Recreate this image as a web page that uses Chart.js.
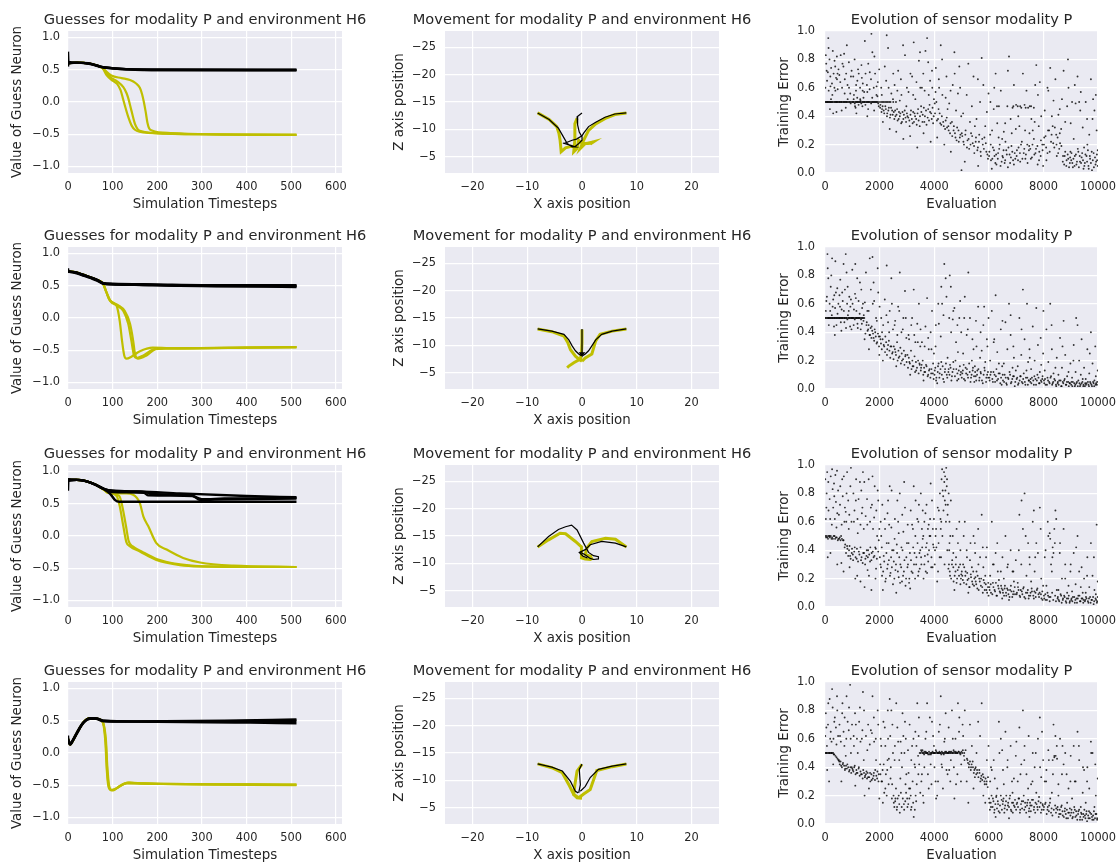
<!DOCTYPE html>
<html>
<head>
<meta charset="utf-8">
<script src="https://cdn.jsdelivr.net/npm/chart.js@4.4.1/dist/chart.umd.min.js"></script>
<style>
  html, body { margin: 0; padding: 0; background: #fff; width: 1118px; height: 863px; overflow: hidden; position: relative; }
  canvas { position: absolute; }
</style>
</head>
<body>
<script>
// ---- tick values and labels ----
const stepTicks = [0, 100, 200, 300, 400, 500, 600];
const stepLabels = ["0", "100", "200", "300", "400", "500", "600"];
const guessTicks = [-1, -0.5, 0, 0.5, 1];
const guessLabels = ["\u22121.0", "\u22120.5", "0.0", "0.5", "1.0"];
const posXTicks = [-20, -10, 0, 10, 20];
const posXLabels = ["\u221220", "\u221210", "0", "10", "20"];
const posZTicks = [-25, -20, -15, -10, -5];
const posZLabels = ["\u221225", "\u221220", "\u221215", "\u221210", "\u22125"];
const evalTicks = [0, 2000, 4000, 6000, 8000, 10000];
const evalLabels = ["0", "2000", "4000", "6000", "8000", "10000"];
const errTicks = [0, 0.2, 0.4, 0.6, 0.8, 1.0];
const errLabels = ["0.0", "0.2", "0.4", "0.6", "0.8", "1.0"];

// ---- guess neuron output: [timestep, value] ----
const guessBlack1 = [
  [[0,0.78],[1,0.62],[20,0.61],[40,0.6],[60,0.575],[75,0.545],[100,0.525],[130,0.51],[170,0.5],[250,0.495],[512,0.495]],
  [[0,0.55],[1,0.6],[20,0.61],[45,0.6],[65,0.565],[80,0.535],[110,0.515],[150,0.5],[200,0.495],[512,0.49]],
  [[0,0.6],[20,0.61],[50,0.59],[70,0.55],[90,0.53],[140,0.505],[512,0.5]]
];
const guessYellow1 = [
  [[0,0.6],[20,0.61],[45,0.6],[65,0.565],[78,0.52],[86,0.42],[100,0.33],[110,0.28],[118,0.18],[124,0.03],[135,-0.23],[143,-0.37],[150,-0.43],[160,-0.46],[220,-0.49],[300,-0.5],[512,-0.51]],
  [[0,0.6],[20,0.61],[45,0.6],[65,0.565],[78,0.52],[94,0.39],[110,0.32],[124,0.23],[131,0.14],[135,0.06],[142,-0.13],[150,-0.34],[156,-0.42],[163,-0.45],[220,-0.49],[512,-0.51]],
  [[0,0.6],[20,0.61],[45,0.6],[65,0.565],[78,0.52],[97,0.41],[120,0.37],[139,0.34],[152,0.29],[161,0.22],[166,0.12],[170,0.0],[174,-0.15],[178,-0.32],[182,-0.41],[188,-0.44],[230,-0.48],[512,-0.51]]
];
const guessBlack2 = [
  [[0,0.77],[1,0.72],[15,0.71],[30,0.68],[50,0.63],[65,0.59],[80,0.54],[100,0.53],[200,0.52],[300,0.51],[512,0.51]],
  [[0,0.7],[1,0.72],[15,0.71],[30,0.68],[50,0.63],[65,0.59],[80,0.535],[100,0.525],[200,0.51],[300,0.5],[512,0.5]],
  [[0,0.72],[15,0.71],[30,0.67],[50,0.62],[65,0.58],[80,0.53],[120,0.52],[250,0.5],[400,0.49],[512,0.49]],
  [[0,0.72],[15,0.7],[30,0.67],[50,0.63],[68,0.58],[82,0.53],[150,0.515],[300,0.5],[512,0.48]]
];
const guessYellow2 = [
  [[0,0.72],[15,0.71],[30,0.68],[50,0.63],[65,0.59],[78,0.54],[86,0.4],[92,0.29],[100,0.24],[109,0.19],[116,-0.05],[121,-0.35],[126,-0.58],[131,-0.63],[142,-0.6],[160,-0.52],[190,-0.46],[250,-0.47],[400,-0.46],[512,-0.45]],
  [[0,0.72],[15,0.71],[30,0.68],[50,0.63],[65,0.59],[78,0.54],[86,0.4],[94,0.27],[110,0.19],[124,0.11],[135,-0.09],[142,-0.35],[148,-0.58],[154,-0.62],[169,-0.58],[190,-0.49],[220,-0.47],[400,-0.46],[512,-0.45]],
  [[0,0.72],[15,0.71],[30,0.68],[50,0.63],[65,0.59],[78,0.54],[86,0.4],[95,0.27],[112,0.2],[127,0.11],[139,-0.09],[146,-0.35],[150,-0.55],[157,-0.63],[176,-0.58],[198,-0.48],[240,-0.47],[512,-0.45]]
];
const guessBlack3 = [
  [[0,0.7],[1,0.88],[20,0.87],[40,0.85],[60,0.8],[80,0.73],[100,0.7],[150,0.69],[175,0.68],[185,0.65],[270,0.64],[300,0.57],[350,0.58],[512,0.59]],
  [[0,0.86],[20,0.87],[40,0.85],[60,0.8],[80,0.73],[100,0.7],[160,0.69],[250,0.66],[400,0.62],[512,0.6]],
  [[0,0.87],[20,0.87],[40,0.85],[60,0.8],[80,0.73],[95,0.65],[105,0.56],[115,0.53],[512,0.53]],
  [[0,0.86],[20,0.87],[40,0.85],[60,0.8],[80,0.73],[100,0.68],[170,0.67],[180,0.63],[280,0.62],[295,0.56],[350,0.57],[512,0.58]]
];
const guessYellow3 = [
  [[0,0.87],[20,0.87],[40,0.85],[60,0.8],[80,0.72],[90,0.67],[109,0.62],[116,0.46],[124,0.15],[131,-0.1],[139,-0.16],[161,-0.24],[198,-0.37],[251,-0.45],[296,-0.47],[512,-0.48]],
  [[0,0.87],[20,0.87],[40,0.85],[60,0.8],[80,0.72],[90,0.67],[115,0.62],[122,0.45],[130,0.15],[136,-0.08],[145,-0.16],[165,-0.24],[200,-0.36],[251,-0.44],[300,-0.47],[512,-0.48]],
  [[0,0.87],[20,0.87],[40,0.85],[60,0.8],[80,0.72],[90,0.67],[130,0.66],[146,0.64],[161,0.51],[169,0.3],[180,0.15],[198,-0.11],[221,-0.21],[258,-0.34],[296,-0.41],[371,-0.46],[512,-0.48]]
];
const guessBlack4 = [
  [[0,0.27],[1,0.18],[5,0.13],[10,0.18],[20,0.31],[34,0.47],[49,0.54],[62,0.54],[79,0.5],[120,0.49],[300,0.49],[512,0.5]],
  [[0,0.15],[1,0.2],[5,0.14],[10,0.19],[20,0.32],[34,0.47],[49,0.53],[62,0.53],[80,0.49],[200,0.485],[512,0.46]],
  [[0,0.22],[5,0.13],[10,0.18],[20,0.3],[34,0.46],[50,0.53],[64,0.53],[80,0.5],[150,0.49],[350,0.5],[512,0.52]]
];
const guessYellow4 = [
  [[0,0.22],[5,0.13],[10,0.18],[20,0.31],[34,0.47],[49,0.54],[64,0.53],[76,0.5],[80,0.42],[84,0.14],[87,-0.27],[91,-0.53],[98,-0.58],[110,-0.54],[125,-0.48],[138,-0.46],[170,-0.47],[512,-0.49]],
  [[0,0.22],[5,0.13],[10,0.18],[20,0.31],[34,0.47],[49,0.54],[64,0.53],[76,0.5],[81,0.4],[85,0.12],[88,-0.3],[93,-0.55],[101,-0.58],[116,-0.51],[135,-0.46],[161,-0.47],[512,-0.49]],
  [[0,0.22],[5,0.13],[10,0.18],[20,0.31],[34,0.47],[49,0.54],[64,0.53],[76,0.5],[80,0.44],[85,0.2],[88,-0.2],[92,-0.5],[97,-0.57],[108,-0.55],[130,-0.47],[200,-0.48],[512,-0.5]]
];

// ---- robot movement: [x position, z position] ----
const moveBlack1 = [
  [[-8.1,-13],[-6,-11.8],[-4.3,-10.2],[-3.5,-8.8],[-2.7,-7.4],[-1.8,-6.8],[-1.2,-6.8],[-2.5,-7.2],[-3.5,-7.5]],
  [[8.1,-13],[6,-12.8],[4.2,-12.2],[2.5,-11.3],[1.2,-10.5],[0.3,-9.3],[0,-8.8],[-1,-8.2],[-1.8,-8],[-3.3,-7.4]],
  [[0,-13],[-0.9,-12.3],[-0.8,-10.8],[-0.5,-9.5],[0,-8.6],[0,-8],[-0.7,-7.3],[-1.3,-6.8]]
];
const moveYellow1 = [
  [[-8.1,-13],[-6,-11.8],[-4.6,-10.5],[-4.2,-9.2],[-4,-8],[-3.8,-5.9],[-3,-6.6],[-2,-6.9],[-1.2,-6.8]],
  [[-0.9,-12],[-1.3,-11],[-1.3,-9.8],[-1.3,-8],[-1.5,-5.9],[-0.9,-6.5],[-0.6,-8],[0,-7.4],[1,-7.4],[2.1,-7.7],[1.5,-7.3]],
  [[8.1,-13],[6,-12.7],[4.25,-12],[2.5,-11],[1.2,-9.8],[0.3,-8],[-0.3,-6.5],[0.6,-7.4],[1.8,-7.5]]
];
const moveBlack2 = [
  [[-8.1,-13],[-5.5,-12.6],[-3.3,-12],[-2.4,-11],[-1.8,-9.9],[-1.2,-9],[-0.6,-8.4],[-0.1,-8.1]],
  [[8.1,-13],[5.5,-12.6],[3.6,-12],[2.5,-11],[1.8,-9.9],[1.2,-9],[0.6,-8.4],[0.1,-8.1]],
  [[0,-13],[0,-10.5],[0,-8.1],[-0.4,-8.6],[0.4,-8.6],[0,-8.1]]
];
const moveYellow2 = [
  [[-8.1,-13],[-5.5,-12.5],[-3.3,-11.7],[-2.6,-10.5],[-2.1,-9.2],[-1.2,-8],[-0.5,-7.4],[0,-7.1]],
  [[8.1,-13],[5.5,-12.6],[3.3,-12],[2.5,-10.8],[1.8,-8.4],[0.6,-7.7],[0,-7.1]],
  [[0,-12.9],[0,-10.5],[-0.1,-8.5],[-0.3,-7.5],[-1.5,-6.8],[-2.4,-6.2],[-2.7,-5.9]]
];
const moveBlack3 = [
  [[-8.1,-13],[-6.1,-14.9],[-4.3,-16.2],[-3,-16.7],[-1.9,-17],[-0.9,-16.1],[0.3,-13.7],[1.2,-12],[2.1,-11.4],[3,-11.2],[3,-10.8],[2.1,-10.7],[1.5,-10.9],[0.5,-11.6],[-0.3,-12]],
  [[8.1,-13],[6.1,-13.7],[3.6,-14],[1.5,-13.4],[0.6,-12.5],[-0.5,-12],[0.2,-11.3],[1,-11]]
];
const moveYellow3 = [
  [[-8.1,-13],[-6.1,-14.3],[-4,-15.5],[-3,-15.4],[-1.2,-14],[-0.1,-13],[-0.1,-11],[0.6,-10.8],[1.5,-10.7],[2,-11]],
  [[8.1,-13],[6.1,-14.4],[4.3,-14.6],[1.8,-14],[0.9,-12.8],[0.6,-11.6],[1.8,-11.2]]
];
const moveBlack4 = [
  [[-8.1,-13],[-5.5,-12.4],[-3.6,-11.7],[-2.1,-9.8],[-1.2,-8],[-0.7,-7.7]],
  [[8.1,-13],[5.5,-12.6],[3,-12],[1.5,-10.5],[0.6,-8.9],[-0.3,-8]],
  [[0,-13],[-0.5,-12],[-0.3,-9.2],[-0.6,-7.7]]
];
const moveYellow4 = [
  [[-8.1,-13],[-5.5,-12.3],[-3.6,-11.4],[-2.4,-9.2],[-1.5,-7.4],[-0.9,-6.8],[0,-6.7]],
  [[8.1,-13],[5.5,-12.5],[2.7,-11.8],[1.5,-8.3],[0.3,-7.5],[-0.6,-6.8]],
  [[0,-12.9],[-0.9,-11.7],[-1.3,-9.2],[-1.5,-7.4],[-0.6,-6.8]]
];

// ---- training error per evaluation: [evaluation, error] ----
const trainErr1 = [
  [20,.5],[90,.5],[160,.5],[240,.5],[330,.5],[410,.5],[480,.5],[60,.72],[130,.88],[200,.61],[270,.55],[350,.79],[440,.66],[120,.95],[300,.42],[380,.58],[460,.7],[30,.83],[220,.52],
  [520,.5],[600,.5],[690,.5],[770,.5],[860,.5],[940,.49],[560,.64],[640,.77],[720,.56],[800,.9],[880,.6],[950,.68],[610,.44],[830,.52],[700,.84],
  [1010,.5],[1090,.49],[1170,.5],[1250,.5],[1330,.49],[1420,.5],[1060,.55],[1140,.62],[1210,.73],[1290,.52],[1380,.58],[1460,.93],[1120,.46],[1350,.67],[1480,.48],
  [1520,.5],[1600,.5],[1690,.49],[1770,.5],[1860,.5],[1950,.49],[1550,.57],[1640,.71],[1730,.53],[1810,.82],[1890,.61],[1970,.47],[1580,.45],[1700,.98],[1920,.54],
  [2030,.48],[2090,.45],[2150,.44],[2210,.47],[2280,.42],[2340,.46],[2400,.41],[2460,.44],[2060,.6],[2190,.75],[2310,.88],[2430,.56],[2120,.36],[2370,.31],[2260,.97],[2490,.52],[2200,.5],[2350,.5],
  [2520,.43],[2580,.4],[2640,.45],[2700,.38],[2760,.42],[2820,.36],[2890,.41],[2950,.39],[2550,.62],[2680,.72],[2800,.55],[2930,.83],[2610,.29],[2870,.24],[2740,.51],[2980,.47],
  [3020,.4],[3090,.37],[3150,.44],[3210,.35],[3280,.42],[3340,.38],[3410,.45],[3470,.33],[3060,.57],[3190,.68],[3310,.52],[3440,.79],[3120,.26],[3380,.18],[3250,.92],[3490,.6],
  [3520,.47],[3580,.41],[3640,.36],[3700,.44],[3760,.39],[3830,.48],[3890,.42],[3960,.35],[3550,.6],[3680,.86],[3800,.55],[3920,.72],[3610,.28],[3740,.95],[3870,.22],[3990,.52],
  [4020,.49],[4080,.5],[4140,.38],[4200,.42],[4260,.34],[4330,.36],[4400,.31],[4460,.39],[4050,.57],[4170,.66],[4290,.8],[4420,.53],[4110,.25],[4370,.2],[4240,.9],[4490,.45],
  [4520,.33],[4580,.28],[4650,.36],[4710,.3],[4780,.25],[4840,.32],[4900,.22],[4960,.27],[4550,.49],[4680,.62],[4800,.44],[4920,.75],[4610,.15],[4870,.56],[4740,.85],[4990,.4],
  [5030,.26],[5090,.2],[5150,.3],[5220,.23],[5280,.17],[5350,.28],[5410,.21],[5470,.14],[5060,.42],[5190,.55],[5310,.36],[5440,.68],[5120,.08],[5380,.47],[5250,.77],[5490,.33],[5000,.02],
  [5520,.22],[5580,.16],[5650,.27],[5710,.12],[5780,.2],[5840,.25],[5910,.15],[5970,.1],[5550,.38],[5680,.5],[5800,.62],[5930,.43],[5610,.05],[5870,.33],[5740,.81],[5990,.56],
  [6020,.15],[6080,.09],[6150,.18],[6210,.12],[6280,.06],[6340,.14],[6400,.2],[6470,.08],[6050,.27],[6180,.45],[6310,.35],[6440,.58],[6110,.03],[6370,.47],[6250,.7],[6490,.24],[6060,.5],[6300,.47],
  [6520,.11],[6580,.07],[6640,.16],[6700,.04],[6760,.13],[6830,.19],[6890,.09],[6950,.14],[6550,.29],[6680,.47],[6800,.38],[6920,.62],[6610,.22],[6870,.46],[6740,.82],[6990,.31],
  [7020,.12],[7090,.18],[7150,.08],[7210,.22],[7280,.14],[7340,.1],[7410,.2],[7470,.16],[7060,.47],[7190,.46],[7310,.48],[7440,.46],[7120,.33],[7380,.58],[7250,.7],[7490,.28],
  [7520,.17],[7580,.11],[7650,.24],[7710,.14],[7780,.19],[7840,.09],[7910,.23],[7970,.16],[7550,.47],[7680,.36],[7800,.55],[7920,.4],[7610,.3],[7870,.64],[7740,.76],[7990,.05],
  [8020,.2],[8080,.26],[8150,.14],[8210,.3],[8280,.22],[8340,.33],[8400,.18],[8470,.27],[8050,.44],[8180,.58],[8310,.4],[8440,.66],[8110,.09],[8370,.51],[8250,.74],[8490,.12],
  [8520,.25],[8580,.17],[8650,.31],[8710,.08],[8780,.12],[8840,.05],[8910,.1],[8970,.07],[8550,.41],[8680,.52],[8800,.36],[8920,.6],[8610,.21],[8870,.47],[8740,.72],[8990,.15],
  [9020,.09],[9080,.04],[9150,.12],[9210,.06],[9280,.15],[9340,.08],[9400,.11],[9470,.03],[9050,.5],[9180,.49],[9310,.5],[9440,.32],[9110,.24],[9370,.57],[9250,.68],[9490,.18],
  [9520,.07],[9580,.12],[9650,.05],[9710,.1],[9780,.02],[9840,.14],[9910,.06],[9970,.09],[9550,.5],[9680,.27],[9800,.38],[9920,.55],[9610,.2],[9870,.44],[9740,.66],[9990,.16],
  [40,.5],[70,.5],[110,.5],[140,.5],[190,.5],[210,.5],[260,.5],[290,.5],[360,.5],[390,.5],[430,.5],[460,.5],[540,.5],[570,.5],[620,.5],[660,.5],[710,.5],[740,.5],[790,.5],[820,.5],[900,.5],[920,.5],[970,.5],
  [1030,.5],[1060,.5],[1110,.5],[1140,.5],[1190,.5],[1220,.5],[1280,.5],[1310,.5],[1360,.5],[1390,.5],[1450,.5],[1470,.5],[1540,.5],[1570,.5],[1620,.5],[1660,.5],[1710,.5],[1740,.5],[1800,.5],[1830,.5],[1890,.5],[1920,.5],[1980,.5],
  [2050,.5],[2100,.5],[2150,.5],[2250,.5],[2300,.5],[2400,.5],[2500,.5],[2600,.5],
  [1050,.52],[1100,.47],[1180,.53],[1230,.48],[1300,.51],[1370,.47],[1410,.53],
  [15,.6],[45,.77],[75,.65],[105,.71],[135,.58],[165,.8],[195,.68],[225,.74],[255,.63],[285,.86],[315,.7],[345,.6],[375,.75],[405,.67],[435,.82],[465,.59],[495,.73],[525,.69],[575,.83],[625,.6],[675,.75],[725,.66],[775,.7],[825,.62],
  [875,.78],[925,.56],[975,.72],[1035,.68],[1085,.8],[1135,.58],[1185,.65],[1235,.7],[1285,.6],[1335,.76],[1385,.63],[1435,.57],[1485,.7],[1535,.62],[1585,.77],[1635,.59],[1685,.66],[1735,.85],[1785,.6],[1835,.7],[1885,.55],[1935,.64],[1985,.73],
  [180,.45],[420,.43],[760,.46],[1150,.42],[1550,.4],[1800,.44],
  [2020,.46],[2070,.43],[2110,.47],[2170,.42],[2230,.45],[2270,.4],[2320,.44],[2380,.39],[2420,.46],[2480,.41],[2540,.38],[2570,.44],[2620,.41],[2660,.37],[2710,.43],[2740,.4],[2790,.35],[2840,.43],[2870,.38],[2920,.44],[2970,.36],
  [3000,.42],[3050,.39],[3100,.33],[3130,.41],[3180,.38],[3230,.43],[3260,.36],[3300,.4],[3360,.34],[3390,.42],[3430,.37],[3480,.4],[3530,.43],[3570,.36],[3620,.46],[3660,.4],[3720,.34],[3780,.45],[3810,.37],[3850,.43],[3910,.38],[3940,.46],[3980,.4],
  [4030,.42],[4100,.37],[4160,.45],[4220,.35],[4280,.4],[4350,.33],[4420,.37],[4470,.32],
  [2080,.55],[2240,.65],[2330,.6],[2500,.7],[2650,.58],[2780,.66],[2860,.9],[3000,.6],[3130,.7],[3230,.55],[3350,.64],[3480,.85],[3600,.7],[3650,.58],[3780,.78],[3850,.65],[3930,.6],[4060,.74],[4180,.6],[4300,.55],[4450,.68],[4600,.58],[4750,.7],[4950,.6],
  [4530,.3],[4600,.35],[4660,.26],[4720,.33],[4760,.28],[4820,.23],[4890,.3],[4940,.25],[5010,.28],[5070,.22],[5140,.27],[5200,.18],[5260,.24],[5330,.2],[5390,.26],[5460,.19],[5530,.25],[5600,.18],[5640,.22],[5700,.15],[5760,.24],[5820,.17],[5890,.21],[5950,.13],
  [6010,.12],[6070,.2],[6130,.1],[6190,.16],[6240,.07],[6270,.13],[6330,.1],[6380,.17],[6430,.05],[6500,.12],[6540,.16],[6600,.09],[6660,.13],[6720,.18],[6780,.07],[6810,.11],[6860,.15],[6920,.06],[6970,.1],
  [7030,.16],[7070,.09],[7140,.14],[7180,.2],[7230,.1],[7300,.17],[7360,.13],[7420,.07],[7480,.19],[7540,.1],[7600,.2],[7670,.13],[7730,.17],[7790,.06],[7850,.15],[7900,.12],[7960,.2],
  [6120,.3],[6360,.25],[6600,.35],[6840,.28],[7080,.4],[7330,.3],[7560,.38],[7830,.33],[6900,.47],[7000,.48],[7150,.47],[7350,.46],[7500,.47],[7650,.46],
  [8030,.25],[8100,.18],[8170,.3],[8230,.15],[8300,.27],[8360,.21],[8420,.32],[8480,.2],[8540,.14],[8600,.28],[8660,.19],
  [8720,.12],[8760,.06],[8800,.15],[8850,.09],[8890,.13],[8940,.04],[8980,.11],[9030,.14],[9060,.07],[9100,.1],[9140,.05],[9190,.13],[9230,.08],[9260,.17],[9300,.04],[9330,.12],[9380,.07],[9420,.14],[9450,.09],[9500,.05],
  [9540,.13],[9600,.08],[9630,.16],[9660,.03],[9700,.12],[9740,.07],[9770,.15],[9810,.09],[9850,.04],[9890,.11],[9930,.08],[9960,.13],[9990,.05],
  [8150,.6],[8600,.45],[9000,.35],[9150,.62],[9350,.44],[9600,.38],[9820,.52],[9950,.3],[8900,.8],[7700,.62],[6700,.72],[5600,.66],[6200,.6]
];
const trainErr2 = [
  [20,.5],[80,.5],[150,.5],[230,.5],[310,.5],[390,.5],[470,.5],[50,.62],[120,.78],[190,.55],[260,.92],[340,.66],[420,.45],[100,.85],[280,.58],[450,.71],[360,.38],
  [520,.5],[590,.5],[660,.5],[740,.5],[820,.49],[900,.5],[980,.5],[550,.58],[630,.68],[710,.47],[790,.82],[870,.55],[950,.63],[600,.41],[760,.95],[920,.44],
  [1020,.5],[1090,.49],[1160,.5],[1240,.5],[1320,.49],[1060,.56],[1130,.64],[1200,.43],[1280,.75],[1350,.46],[1420,.52],[1480,.39],[1110,.88],[1390,.6],[1450,.35],
  [1520,.45],[1580,.42],[1650,.38],[1710,.44],[1780,.36],[1840,.4],[1910,.33],[1970,.37],[1550,.55],[1680,.7],[1800,.62],[1930,.85],[1610,.28],[1870,.5],[1740,.93],[1990,.24],
  [2030,.35],[2090,.4],[2150,.31],[2210,.37],[2280,.28],[2340,.34],[2400,.3],[2460,.25],[2060,.5],[2190,.63],[2310,.47],[2430,.78],[2120,.2],[2370,.55],[2260,.87],[2490,.42],
  [2520,.3],[2580,.26],[2640,.33],[2700,.22],[2760,.29],[2820,.2],[2890,.27],[2950,.24],[2550,.45],[2680,.58],[2800,.4],[2930,.69],[2610,.16],[2870,.5],[2740,.82],[2980,.36],
  [3020,.24],[3090,.19],[3150,.27],[3210,.16],[3280,.23],[3340,.13],[3410,.2],[3470,.17],[3060,.38],[3190,.5],[3310,.33],[3440,.6],[3120,.1],[3380,.46],[3250,.7],[3490,.3],
  [3520,.15],[3580,.2],[3640,.12],[3700,.17],[3760,.09],[3830,.14],[3890,.11],[3960,.18],[3550,.33],[3680,.44],[3800,.28],[3920,.55],[3610,.06],[3870,.4],[3740,.64],[3990,.25],
  [4020,.13],[4080,.08],[4140,.16],[4200,.11],[4260,.19],[4330,.07],[4400,.14],[4460,.1],[4050,.3],[4170,.46],[4290,.6],[4420,.78],[4110,.04],[4370,.88],[4240,.37],[4490,.22],
  [4520,.12],[4580,.17],[4650,.09],[4710,.14],[4780,.2],[4840,.06],[4900,.13],[4960,.1],[4550,.5],[4680,.49],[4800,.33],[4920,.5],[4610,.72],[4870,.26],[4740,.57],[4990,.4],
  [5030,.11],[5090,.07],[5150,.15],[5220,.1],[5280,.18],[5350,.08],[5410,.13],[5470,.05],[5060,.25],[5190,.38],[5310,.5],[5440,.28],[5120,.65],[5380,.2],[5250,.82],[5490,.16],
  [5520,.09],[5580,.13],[5650,.06],[5710,.11],[5780,.04],[5840,.15],[5910,.08],[5970,.12],[5550,.3],[5680,.22],[5800,.45],[5930,.35],[5610,.58],[5870,.19],[5740,.27],[5990,.5],
  [6020,.08],[6080,.12],[6150,.05],[6210,.1],[6280,.14],[6340,.07],[6400,.11],[6470,.03],[6050,.2],[6180,.33],[6310,.26],[6440,.42],[6110,.55],[6370,.18],[6250,.66],[6490,.16],
  [6520,.06],[6580,.1],[6640,.04],[6700,.08],[6760,.12],[6830,.05],[6890,.09],[6950,.02],[6550,.18],[6680,.28],[6800,.38],[6920,.22],[6610,.47],[6870,.15],[6740,.6],[6990,.13],
  [7020,.07],[7090,.04],[7150,.09],[7210,.05],[7280,.11],[7340,.03],[7410,.08],[7470,.06],[7060,.16],[7190,.24],[7310,.35],[7440,.19],[7120,.5],[7380,.13],[7250,.7],[7490,.28],
  [7520,.05],[7580,.08],[7650,.03],[7710,.07],[7780,.1],[7840,.04],[7910,.06],[7970,.09],[7550,.14],[7680,.2],[7800,.31],[7920,.17],[7610,.44],[7870,.12],[7740,.57],[7990,.25],
  [8020,.06],[8080,.03],[8150,.08],[8210,.05],[8280,.09],[8340,.04],[8400,.07],[8470,.02],[8050,.13],[8180,.19],[8310,.28],[8440,.15],[8110,.42],[8370,.11],[8250,.6],[8490,.22],
  [8520,.04],[8580,.06],[8650,.02],[8710,.05],[8780,.07],[8840,.03],[8910,.05],[8970,.04],[8550,.1],[8680,.15],[8800,.24],[8920,.12],[8610,.36],[8870,.09],[8740,.48],[8990,.18],
  [9020,.03],[9080,.05],[9150,.02],[9210,.04],[9280,.06],[9340,.02],[9400,.04],[9470,.03],[9050,.08],[9180,.12],[9310,.2],[9440,.07],[9110,.31],[9370,.1],[9250,.45],[9490,.15],
  [9520,.02],[9580,.04],[9650,.03],[9710,.05],[9780,.02],[9840,.04],[9910,.03],[9970,.05],[9550,.07],[9680,.11],[9800,.18],[9920,.09],[9610,.28],[9870,.06],[9740,.4],[9990,.13],
  [40,.5],[110,.5],[130,.5],[180,.5],[200,.5],[260,.5],[280,.5],[340,.5],[360,.5],[420,.5],[440,.5],[500,.5],[540,.5],[570,.5],[620,.5],[640,.5],[700,.5],[720,.5],[780,.5],[800,.5],[850,.5],[880,.5],[930,.5],[960,.5],
  [1000,.5],[1040,.5],[1070,.5],[1120,.5],[1140,.5],[1190,.5],[1210,.5],[1260,.5],[1290,.5],[1340,.5],[1370,.5],[1400,.5],[1440,.5],
  [30,.55],[70,.65],[140,.45],[170,.6],[210,.72],[250,.52],[300,.63],[330,.44],[370,.57],[400,.68],[460,.53],[490,.6],[530,.66],[580,.47],[610,.56],[650,.62],[690,.55],[730,.7],[770,.43],[810,.6],[840,.52],[890,.65],[930,.58],[970,.42],
  [1010,.6],[1050,.45],[1100,.67],[1150,.55],[1190,.46],[1230,.62],[1270,.53],[1310,.42],[1360,.57],[1410,.48],[1460,.61],
  [90,.95],[230,.8],[380,.9],[560,.77],[680,.88],[830,.72],[1000,.84],[1180,.78],[1330,.7],[1500,.82],[1640,.92],[1780,.75],[1950,.68],
  [1530,.47],[1560,.41],[1600,.45],[1630,.38],[1670,.43],[1700,.36],[1730,.41],[1760,.39],[1800,.34],[1820,.42],[1860,.37],[1890,.32],[1940,.39],[1980,.3],[2010,.37],[2050,.32],[2080,.28],[2110,.35],[2170,.3],[2200,.26],
  [2240,.33],[2270,.24],[2310,.31],[2360,.27],[2390,.22],[2430,.3],[2480,.26],[2510,.21],[2560,.28],[2600,.24],[2660,.2],[2690,.27],[2730,.23],[2780,.18],[2810,.25],[2860,.21],[2910,.17],[2940,.23],[2990,.19],
  [3040,.15],[3070,.22],[3110,.18],[3170,.14],[3200,.2],[3240,.16],[3300,.12],[3330,.19],[3370,.15],[3430,.11],[3460,.18],[3510,.13],[3540,.17],[3600,.1],[3630,.15],[3670,.12],[3720,.16],[3780,.1],[3810,.13],[3860,.08],[3900,.14],[3950,.11],[3980,.07],
  [1600,.55],[1750,.6],[1900,.48],[2000,.58],[2130,.45],[2250,.52],[2350,.4],[2450,.6],[2570,.48],[2650,.38],[2720,.55],[2850,.42],[2960,.5],[3080,.35],[3160,.45],[3270,.38],[3400,.33],[3500,.42],[3650,.3],[3780,.36],[3900,.28],
  [4010,.1],[4040,.15],[4070,.06],[4130,.12],[4160,.18],[4190,.08],[4230,.14],[4280,.1],[4310,.16],[4360,.05],[4390,.12],[4430,.18],[4480,.08],[4530,.14],[4560,.1],[4600,.15],[4630,.06],[4670,.12],[4700,.19],[4760,.09],[4810,.14],[4850,.11],[4890,.07],[4940,.16],[4980,.12],
  [5010,.08],[5050,.13],[5080,.17],[5130,.06],[5170,.11],[5200,.14],[5240,.08],[5300,.12],[5330,.05],[5370,.1],[5420,.15],[5460,.09],[5500,.12],[5540,.06],[5570,.1],[5620,.14],[5660,.08],[5700,.12],[5750,.06],[5810,.1],[5850,.13],[5900,.05],[5940,.1],[5980,.08],
  [4060,.45],[4150,.6],[4260,.72],[4340,.52],[4450,.65],[4570,.8],[4620,.4],[4700,.55],[4850,.45],[4950,.62],[5100,.5],[5230,.42],[5400,.35],[5530,.48],[5700,.4],[5830,.58],[5950,.3],
  [6030,.06],[6060,.1],[6130,.07],[6170,.12],[6230,.05],[6260,.09],[6300,.06],[6360,.11],[6420,.04],[6450,.08],[6510,.1],[6560,.05],[6620,.08],[6660,.03],[6720,.07],[6780,.1],[6810,.04],[6860,.07],[6920,.09],[6970,.05],
  [7040,.08],[7070,.03],[7130,.06],[7170,.09],[7240,.04],[7260,.07],[7320,.05],[7360,.08],[7430,.03],[7460,.06],[7530,.07],[7560,.04],[7630,.06],[7670,.09],[7730,.03],[7760,.06],[7820,.08],[7860,.04],[7930,.05],[7960,.07],
  [8030,.04],[8060,.07],[8130,.03],[8170,.06],[8230,.04],[8260,.08],[8320,.03],[8360,.05],[8430,.06],[8460,.03],[8530,.05],[8560,.03],[8630,.06],[8670,.02],[8730,.04],[8760,.06],[8820,.03],[8860,.05],[8930,.02],[8960,.04],
  [9030,.05],[9060,.02],[9130,.04],[9170,.03],[9230,.05],[9260,.02],[9320,.04],[9360,.03],[9430,.05],[9460,.02],[9530,.04],[9560,.03],[9630,.05],[9670,.02],[9730,.04],[9760,.03],[9820,.05],[9860,.02],[9930,.04],[9960,.03],
  [6200,.35],[6500,.48],[6900,.3],[7200,.42],[7500,.22],[7900,.36],[8300,.45],[8700,.3],[9100,.2],[9400,.35],[9700,.25],[9900,.3],[8000,.55],[7400,.6],[6800,.52],[9200,.5]
];
const trainErr3 = [
  [20,.5],[90,.49],[160,.5],[240,.48],[320,.5],[400,.49],[470,.47],[50,.7],[120,.88],[190,.62],[260,.97],[340,.78],[420,.56],[100,.35],[280,.83],[450,.66],[380,.93],
  [520,.48],[590,.5],[660,.47],[740,.44],[820,.41],[900,.43],[980,.38],[550,.72],[630,.9],[710,.6],[790,.8],[870,.55],[950,.98],[600,.31],[760,.67],[920,.36],
  [1020,.37],[1090,.42],[1160,.34],[1240,.39],[1320,.33],[1400,.38],[1470,.3],[1060,.6],[1130,.75],[1200,.52],[1280,.88],[1350,.66],[1420,.55],[1110,.2],[1390,.95],[1450,.14],
  [1520,.36],[1580,.4],[1650,.32],[1710,.38],[1780,.35],[1840,.42],[1910,.5],[1970,.47],[1550,.58],[1680,.7],[1800,.63],[1930,.82],[1610,.22],[1870,.27],[1740,.92],[1990,.55],
  [2030,.3],[2090,.22],[2150,.36],[2210,.18],[2280,.27],[2340,.33],[2400,.24],[2460,.4],[2060,.5],[2190,.62],[2310,.75],[2430,.56],[2120,.12],[2370,.85],[2260,.45],[2490,.16],
  [2520,.32],[2580,.26],[2640,.38],[2700,.21],[2760,.3],[2820,.18],[2890,.25],[2950,.15],[2550,.48],[2680,.6],[2800,.42],[2930,.7],[2610,.1],[2870,.53],[2740,.8],[2980,.35],
  [3020,.28],[3090,.2],[3150,.33],[3210,.24],[3280,.38],[3340,.3],[3410,.22],[3470,.27],[3060,.45],[3190,.58],[3310,.5],[3440,.72],[3120,.13],[3380,.62],[3250,.85],[3490,.4],
  [3520,.35],[3580,.48],[3640,.3],[3700,.42],[3760,.37],[3830,.5],[3890,.28],[3960,.44],[3550,.55],[3680,.66],[3800,.58],[3920,.75],[3610,.2],[3870,.87],[3740,.24],[3990,.62],
  [4020,.3],[4080,.42],[4140,.25],[4200,.35],[4260,.6],[4330,.78],[4400,.92],[4460,.85],[4050,.5],[4170,.68],[4290,.97],[4420,.72],[4110,.18],[4370,.88],[4240,.55],[4490,.65],[4310,.82],[4440,.98],
  [4520,.27],[4580,.22],[4650,.3],[4710,.18],[4780,.25],[4840,.2],[4900,.28],[4960,.16],[4550,.4],[4680,.5],[4800,.35],[4920,.6],[4610,.75],[4870,.45],[4740,.12],[4990,.23],
  [5030,.22],[5090,.17],[5150,.25],[5220,.19],[5280,.14],[5350,.21],[5410,.16],[5470,.2],[5060,.3],[5190,.4],[5310,.33],[5440,.5],[5120,.6],[5380,.28],[5250,.1],[5490,.45],
  [5520,.18],[5580,.13],[5650,.2],[5710,.15],[5780,.1],[5840,.17],[5910,.12],[5970,.14],[5550,.25],[5680,.35],[5800,.28],[5930,.42],[5610,.55],[5870,.22],[5740,.65],[5990,.08],
  [6020,.14],[6080,.1],[6150,.17],[6210,.12],[6280,.08],[6340,.15],[6400,.11],[6470,.13],[6050,.22],[6180,.3],[6310,.45],[6440,.25],[6110,.6],[6370,.19],[6250,.38],[6490,.06],
  [6520,.1],[6580,.13],[6640,.08],[6700,.12],[6760,.07],[6830,.11],[6890,.09],[6950,.14],[6550,.2],[6680,.28],[6800,.4],[6920,.18],[6610,.5],[6870,.25],[6740,.05],[6990,.33],
  [7020,.09],[7090,.12],[7150,.07],[7210,.11],[7280,.14],[7340,.06],[7410,.1],[7470,.08],[7060,.17],[7190,.3],[7310,.8],[7440,.45],[7120,.65],[7380,.22],[7250,.55],[7490,.35],
  [7520,.08],[7580,.11],[7650,.06],[7710,.1],[7780,.13],[7840,.07],[7910,.09],[7970,.05],[7550,.18],[7680,.25],[7800,.38],[7920,.2],[7610,.6],[7870,.7],[7740,.45],[7990,.15],
  [8020,.08],[8080,.05],[8150,.1],[8210,.07],[8280,.3],[8340,.42],[8400,.55],[8470,.62],[8050,.35],[8180,.5],[8310,.25],[8440,.68],[8110,.15],[8370,.38],[8250,.48],[8490,.12],
  [8520,.06],[8580,.04],[8650,.08],[8710,.05],[8780,.07],[8840,.03],[8910,.06],[8970,.04],[8550,.12],[8680,.2],[8800,.3],[8920,.15],[8610,.45],[8870,.1],[8740,.55],[8990,.25],
  [9020,.05],[9080,.07],[9150,.03],[9210,.06],[9280,.08],[9340,.04],[9400,.06],[9470,.05],[9050,.11],[9180,.16],[9310,.25],[9440,.1],[9110,.38],[9370,.14],[9250,.5],[9490,.2],
  [9520,.04],[9580,.06],[9650,.03],[9710,.07],[9780,.05],[9840,.02],[9910,.06],[9970,.04],[9550,.1],[9680,.14],[9800,.22],[9920,.09],[9610,.35],[9870,.12],[9740,.45],[9990,.18],
  [40,.49],[70,.5],[110,.48],[140,.5],[180,.49],[210,.5],[260,.49],[290,.48],[350,.5],[370,.48],[430,.49],[490,.48],[540,.49],[570,.47],[620,.48],[680,.47],
  [10,.9],[30,.62],[60,.8],[80,.95],[130,.68],[170,.76],[210,.92],[250,.58],[300,.7],[330,.87],[360,.62],[400,.74],[440,.96],[480,.82],[510,.65],[560,.85],[610,.58],[650,.78],[690,.92],[730,.7],[780,.6],[810,.95],[850,.75],
  [890,.65],[930,.85],[970,.6],[1040,.8],[1080,.68],[1140,.9],[1190,.62],[1230,.76],[1300,.58],[1330,.82],[1370,.7],[1440,.88],[1490,.64],[1540,.76],[1600,.9],[1650,.6],[1720,.72],[1760,.55],[1820,.85],[1880,.68],[1950,.75],
  [720,.42],[770,.38],[810,.43],[850,.36],[880,.4],[940,.34],[990,.41],[1030,.33],[1070,.39],[1120,.35],[1170,.41],[1210,.32],[1260,.37],[1300,.42],[1340,.35],[1380,.31],[1430,.38],[1480,.34],[1530,.4],[1570,.35],[1620,.37],[1660,.42],[1700,.33],[1750,.39],[1810,.36],[1860,.41],[1900,.34],[1950,.39],
  [200,.38],[450,.3],[680,.25],[900,.28],[1180,.22],[1300,.18],[1560,.26],[1700,.12],[1850,.2],
  [2010,.35],[2050,.28],[2080,.42],[2130,.25],[2170,.32],[2230,.2],[2250,.38],[2300,.3],[2330,.45],[2380,.22],[2420,.35],[2450,.28],[2510,.4],[2540,.2],[2600,.3],[2630,.44],[2670,.25],[2720,.35],[2750,.17],[2790,.28],[2840,.4],[2860,.22],[2910,.33],[2970,.2],
  [3000,.45],[3040,.3],[3080,.17],[3110,.38],[3170,.25],[3230,.42],[3260,.3],[3300,.2],[3350,.35],[3390,.45],[3430,.25],[3460,.38],[3530,.3],[3560,.42],[3600,.5],[3660,.36],[3690,.25],[3730,.45],[3780,.32],[3810,.4],[3860,.5],[3900,.35],[3940,.28],[3980,.42],
  [2040,.6],[2100,.72],[2200,.55],[2290,.66],[2350,.58],[2440,.82],[2560,.62],[2650,.75],[2700,.52],[2830,.65],[2900,.88],[3030,.58],[3140,.68],[3220,.55],[3320,.75],[3420,.6],[3510,.8],[3580,.68],[3640,.6],[3720,.72],[3770,.55],[3850,.62],[3950,.55],
  [4030,.4],[4070,.55],[4130,.7],[4160,.45],[4210,.8],[4230,.62],[4270,.9],[4300,.5],[4340,.68],[4360,.95],[4390,.75],[4410,.82],[4430,.6],[4470,.9],[4500,.72],[4530,.8],[4560,.6],[4590,.5],[4250,.35],[4380,.3],[4480,.4],
  [4540,.3],[4570,.25],[4620,.2],[4660,.33],[4700,.28],[4750,.22],[4790,.3],[4820,.17],[4860,.26],[4910,.22],[4950,.3],[4980,.2],[5010,.25],[5050,.19],[5100,.28],[5140,.22],[5180,.16],[5210,.24],
  [5260,.2],[5300,.14],[5340,.23],[5390,.18],[5430,.25],[5460,.15],[5510,.21],[5540,.16],[5590,.22],[5630,.12],[5670,.18],[5720,.2],[5760,.14],[5810,.19],[5850,.12],[5890,.16],[5940,.1],[5980,.17],
  [4560,.45],[4700,.38],[4820,.55],[4960,.4],[5080,.5],[5200,.35],[5330,.45],[5500,.38],[5620,.3],[5780,.42],[5900,.35],
  [6030,.12],[6070,.16],[6130,.09],[6170,.14],[6230,.11],[6260,.17],[6300,.08],[6360,.13],[6420,.1],[6450,.15],[6510,.12],[6560,.08],[6590,.15],[6630,.1],[6670,.13],[6720,.09],[6780,.12],[6810,.15],[6860,.07],[6910,.11],[6960,.09],
  [7030,.1],[7070,.14],[7130,.08],[7170,.12],[7230,.09],[7260,.13],[7300,.07],[7360,.1],[7430,.12],[7460,.06],[7530,.1],[7570,.13],[7630,.08],[7670,.11],[7720,.07],[7760,.12],[7820,.09],[7860,.1],[7930,.06],[7960,.11],
  [6150,.3],[6330,.25],[6500,.35],[6700,.3],[6900,.25],[7100,.4],[7200,.75],[7350,.5],[7500,.3],[7700,.35],[7900,.55],[7650,.68],
  [8030,.06],[8070,.09],[8130,.05],[8170,.08],[8230,.04],[8260,.07],[8320,.1],[8360,.05],[8430,.08],[8460,.04],[8530,.07],[8560,.05],[8630,.09],[8670,.03],[8720,.06],[8760,.08],[8820,.04],[8860,.06],[8930,.08],[8960,.03],
  [9030,.06],[9060,.04],[9130,.07],[9170,.05],[9230,.03],[9260,.06],[9320,.08],[9360,.04],[9430,.06],[9460,.03],[9530,.05],[9560,.07],[9630,.04],[9670,.06],[9730,.03],[9760,.05],[9820,.07],[9860,.04],[9930,.05],[9960,.03],[9990,.07],
  [8080,.4],[8160,.6],[8230,.52],[8330,.35],[8420,.45],[8600,.38],[8800,.2],[9000,.3],[9200,.42],[9400,.28],[9600,.22],[9850,.35],[9950,.58]
];
const trainErr4 = [
  [20,.5],[100,.5],[180,.5],[260,.5],[340,.49],[420,.47],[490,.45],[50,.68],[120,.85],[190,.6],[260,.95],[340,.72],[420,.56],[80,.38],[300,.42],[450,.8],[150,.3],
  [520,.44],[590,.41],[660,.43],[740,.39],[820,.42],[900,.38],[980,.4],[550,.62],[630,.78],[710,.55],[790,.9],[870,.66],[950,.5],[600,.3],[760,.48],[920,.98],
  [1020,.38],[1090,.41],[1160,.36],[1240,.4],[1320,.35],[1400,.38],[1470,.34],[1060,.55],[1130,.7],[1200,.5],[1280,.82],[1350,.6],[1420,.45],[1110,.27],[1390,.93],[1450,.2],
  [1520,.37],[1580,.33],[1650,.36],[1710,.31],[1780,.34],[1840,.38],[1910,.32],[1970,.35],[1550,.52],[1680,.66],[1800,.58],[1930,.8],[1610,.25],[1870,.45],[1740,.9],[1990,.18],
  [2030,.35],[2090,.3],[2150,.42],[2210,.25],[2280,.38],[2340,.46],[2400,.32],[2460,.28],[2060,.55],[2190,.68],[2310,.6],[2430,.8],[2120,.15],[2370,.88],[2260,.2],[2490,.5],
  [2520,.15],[2580,.18],[2640,.12],[2700,.2],[2760,.32],[2820,.4],[2890,.14],[2950,.28],[2550,.45],[2680,.58],[2800,.5],[2930,.72],[2610,.85],[2870,.62],[2740,.08],[2980,.35],
  [3020,.12],[3090,.18],[3150,.1],[3210,.3],[3280,.42],[3340,.16],[3410,.48],[3470,.5],[3060,.36],[3190,.55],[3310,.65],[3440,.75],[3120,.25],[3380,.85],[3250,.05],[3490,.22],
  [3520,.52],[3580,.5],[3640,.51],[3700,.5],[3760,.5],[3830,.49],[3890,.5],[3960,.5],[3550,.35],[3680,.6],[3800,.25],[3920,.72],[3610,.15],[3870,.42],[3740,.85],[3990,.55],
  [4020,.5],[4080,.51],[4140,.5],[4200,.5],[4260,.49],[4330,.5],[4400,.51],[4460,.5],[4050,.3],[4170,.65],[4290,.4],[4420,.78],[4110,.2],[4370,.58],[4240,.9],[4490,.35],
  [4520,.5],[4580,.51],[4650,.5],[4710,.52],[4780,.5],[4840,.5],[4900,.51],[4960,.49],[4550,.38],[4680,.6],[4800,.28],[4920,.75],[4610,.45],[4870,.85],[4740,.18],[4990,.42],
  [5030,.5],[5090,.48],[5150,.52],[5220,.45],[5280,.42],[5350,.4],[5410,.44],[5470,.38],[5060,.62],[5190,.3],[5310,.7],[5440,.25],[5120,.8],[5380,.55],[5250,.15],[5490,.33],
  [5520,.4],[5580,.36],[5650,.38],[5710,.32],[5780,.35],[5840,.3],[5910,.28],[5970,.33],[5550,.5],[5680,.62],[5800,.2],[5930,.45],[5610,.72],[5870,.15],[5740,.85],[5990,.55],
  [6020,.15],[6080,.12],[6150,.18],[6210,.1],[6280,.2],[6340,.14],[6400,.08],[6470,.17],[6050,.3],[6180,.45],[6310,.25],[6440,.6],[6110,.38],[6370,.72],[6250,.05],[6490,.52],
  [6520,.16],[6580,.11],[6640,.2],[6700,.13],[6760,.18],[6830,.09],[6890,.15],[6950,.12],[6550,.28],[6680,.4],[6800,.55],[6920,.32],[6610,.65],[6870,.22],[6740,.04],[6990,.48],
  [7020,.14],[7090,.18],[7150,.1],[7210,.16],[7280,.2],[7340,.12],[7410,.15],[7470,.09],[7060,.3],[7190,.42],[7310,.55],[7440,.25],[7120,.68],[7380,.35],[7250,.8],[7490,.05],
  [7520,.13],[7580,.17],[7650,.1],[7710,.15],[7780,.12],[7840,.19],[7910,.08],[7970,.14],[7550,.28],[7680,.4],[7800,.6],[7920,.33],[7610,.5],[7870,.75],[7740,.22],[7990,.45],
  [8020,.12],[8080,.15],[8150,.1],[8210,.13],[8280,.08],[8340,.45],[8400,.48],[8470,.11],[8050,.3],[8180,.52],[8310,.22],[8440,.62],[8110,.38],[8370,.7],[8250,.18],[8490,.55],
  [8520,.1],[8580,.07],[8650,.12],[8710,.06],[8780,.09],[8840,.04],[8910,.08],[8970,.11],[8550,.2],[8680,.35],[8800,.5],[8920,.25],[8610,.6],[8870,.15],[8740,.42],[8990,.3],
  [9020,.08],[9080,.05],[9150,.1],[9210,.06],[9280,.09],[9340,.03],[9400,.07],[9470,.05],[9050,.18],[9180,.3],[9310,.45],[9440,.22],[9110,.55],[9370,.12],[9250,.65],[9490,.38],
  [9520,.06],[9580,.09],[9650,.04],[9710,.08],[9780,.05],[9840,.03],[9910,.07],[9970,.04],[9550,.15],[9680,.25],[9800,.5],[9920,.2],[9610,.4],[9870,.12],[9740,.58],[9990,.32],
  [40,.5],[60,.5],[140,.5],[160,.5],[220,.5],[240,.5],[300,.5],[320,.49],[380,.48],[460,.46],
  [510,.45],[540,.42],[570,.44],[620,.4],[650,.42],[700,.41],[730,.38],[770,.41],[800,.39],[850,.4],[880,.37],[930,.4],[960,.36],[1000,.39],[1040,.37],[1070,.4],[1120,.35],[1150,.38],[1190,.36],
  [1230,.39],[1270,.34],[1300,.37],[1350,.35],[1380,.32],[1430,.36],[1460,.33],[1500,.35],[1540,.32],[1560,.36],[1620,.33],[1660,.3],[1700,.35],[1750,.32],[1790,.36],[1830,.31],[1880,.34],[1920,.37],[1960,.3],
  [10,.62],[30,.78],[70,.55],[110,.7],[170,.88],[210,.65],[240,.58],[280,.82],[310,.6],[360,.75],[400,.68],[440,.9],[480,.62],[530,.7],[580,.58],[640,.85],[680,.65],[720,.75],[780,.6],
  [830,.72],[880,.82],[940,.6],[990,.7],[1050,.62],[1100,.78],[1170,.6],[1250,.72],[1300,.58],[1370,.66],[1430,.8],[1500,.62],[1580,.7],[1640,.56],[1720,.64],[1790,.75],[1860,.6],[1950,.7],
  [2020,.42],[2070,.3],[2110,.38],[2170,.22],[2230,.35],[2290,.45],[2330,.28],[2410,.4],[2450,.18],[2510,.2],[2540,.12],[2570,.16],[2600,.25],[2630,.1],[2660,.18],[2720,.14],
  [2780,.22],[2810,.12],[2850,.18],[2900,.1],[2940,.16],[2970,.22],[3010,.18],[3050,.14],[3080,.25],[3140,.2],[3170,.12],[3230,.15],[3290,.1],[3320,.2],[3360,.28],[3420,.35],[3450,.42],
  [2040,.6],[2140,.72],[2210,.55],[2300,.8],[2390,.62],[2470,.7],[2560,.55],[2650,.68],[2720,.45],[2770,.58],[2840,.78],[2910,.5],[2960,.6],[3040,.52],[3100,.7],[3160,.45],[3240,.6],[3300,.4],[3350,.55],[3430,.62],
  [3510,.5],[3540,.51],[3570,.52],[3600,.5],[3630,.49],[3660,.5],[3690,.51],[3720,.5],[3750,.5],[3780,.49],[3810,.51],[3850,.5],[3880,.49],[3910,.5],[3940,.51],[3970,.5],[4000,.5],[4040,.5],[4060,.52],[4100,.5],[4130,.5],[4160,.5],[4190,.51],[4220,.5],[4250,.5],
  [4280,.51],[4310,.5],[4350,.49],[4380,.5],[4410,.5],[4440,.51],[4480,.5],[4510,.5],[4540,.51],[4570,.5],[4600,.5],[4630,.51],[4670,.5],[4700,.5],[4730,.51],[4760,.5],[4790,.51],[4820,.5],[4860,.5],[4890,.51],[4930,.5],[4970,.5],[5000,.51],[5050,.52],[5100,.5],
  [3530,.3],[3590,.2],[3640,.4],[3710,.65],[3770,.35],[3840,.75],[3900,.28],[3960,.62],[4010,.4],[4070,.18],[4140,.3],[4210,.7],[4270,.42],[4320,.25],[4390,.6],[4450,.38],[4530,.68],[4590,.3],[4650,.8],[4720,.4],[4780,.6],[4850,.35],[4910,.65],[4980,.3],[5040,.7],[5110,.45],
  [5200,.46],[5240,.43],[5270,.4],[5310,.44],[5340,.38],[5370,.42],[5420,.4],[5450,.36],[5500,.39],[5540,.35],[5570,.38],[5620,.33],[5660,.36],[5690,.3],[5730,.34],[5760,.31],[5810,.33],[5850,.28],[5880,.32],[5920,.3],[5960,.26],
  [6010,.18],[6040,.1],[6070,.15],[6100,.2],[6140,.12],[6170,.16],[6200,.08],[6240,.14],[6270,.19],[6300,.11],[6330,.16],[6360,.09],[6410,.13],[6440,.2],[6480,.1],[6510,.14],[6540,.18],[6570,.08],[6600,.13],[6630,.16],[6670,.1],[6710,.15],[6740,.12],[6780,.2],
  [6810,.1],[6850,.15],[6880,.08],[6920,.13],[6960,.17],[7000,.1],[7040,.15],[7070,.12],[7110,.18],[7140,.08],[7180,.14],[7220,.11],[7260,.16],[7300,.1],[7330,.15],[7370,.08],[7400,.13],[7440,.17],[7480,.11],[7510,.15],[7540,.09],[7570,.13],[7620,.17],[7660,.12],
  [7700,.08],[7750,.14],[7790,.1],[7820,.16],[7860,.12],[7900,.15],[7940,.1],[7980,.13],
  [6080,.4],[6220,.32],[6390,.5],[6520,.38],[6690,.45],[6850,.3],[7010,.58],[7160,.35],[7300,.45],[7460,.62],[7600,.3],[7720,.5],[7880,.4],[7950,.65],
  [8010,.1],[8060,.14],[8120,.07],[8160,.12],[8200,.09],[8240,.15],[8300,.11],[8330,.06],[8380,.1],[8430,.13],[8460,.08],[8520,.12],[8560,.05],[8600,.1],[8630,.07],[8670,.13],[8700,.09],[8750,.05],[8790,.11],[8820,.07],[8860,.1],[8900,.04],[8940,.08],[8990,.06],
  [9030,.1],[9060,.04],[9100,.08],[9130,.12],[9170,.05],[9200,.09],[9240,.03],[9270,.07],[9310,.1],[9350,.05],[9380,.08],[9420,.03],[9460,.07],[9500,.1],[9540,.04],[9570,.07],[9600,.02],[9640,.06],[9670,.09],[9700,.04],[9750,.07],[9790,.03],[9820,.06],[9850,.09],[9890,.04],[9940,.07],[9970,.03],
  [8100,.3],[8200,.45],[8350,.35],[8450,.48],[8550,.28],[8700,.55],[8850,.35],[9000,.48],[9150,.3],[9300,.55],[9450,.4],[9600,.3],[9750,.5],[9900,.42],[8400,.47],[8500,.46]
];

// ---- layout ----
const TEXT = "#262626";
const YELLOW = "#BFBF00";
const plotTops = [31, 247, 465, 682];
const plotHeight = 142;
const titleBand = 31;
const xAxisBand = 41;
const columns = [
  { canvasLeft: 0,   plotLeft: 68,  plotWidth: 274, yTitlePad: 9,  tickPad: 8 },
  { canvasLeft: 372, plotLeft: 445, plotWidth: 274, yTitlePad: 19, tickPad: 9 },
  { canvasLeft: 744, plotLeft: 825, plotWidth: 273, yTitlePad: 32, tickPad: 10 }
];

Chart.defaults.font.family = "'DejaVu Sans', sans-serif";
Chart.defaults.color = TEXT;

// seaborn-like grey plotting area, plus a title centred over the plot area
const darkgrid = {
  id: "darkgrid",
  beforeDraw(chart) {
    const { ctx, chartArea: a } = chart;
    ctx.save();
    ctx.fillStyle = "#EAEAF2";
    ctx.fillRect(a.left, a.top, a.right - a.left, a.bottom - a.top);
    ctx.restore();
  },
  afterDraw(chart, args, opts) {
    if (!opts.text) return;
    const { ctx, chartArea: a } = chart;
    ctx.save();
    ctx.fillStyle = TEXT;
    ctx.font = "14.6px 'DejaVu Sans', sans-serif";
    ctx.textAlign = "center";
    ctx.textBaseline = "middle";
    ctx.fillText(opts.text, (a.left + a.right) / 2, a.top - 11);
    ctx.restore();
  }
};

function scale(min, max, ticks, labels, title, horizontal, col, reverse) {
  return {
    type: "linear",
    min: min,
    max: max,
    reverse: !!reverse,
    afterBuildTicks: (s) => { s.ticks = ticks.map((v) => ({ value: v })); },
    afterFit: (s) => {
      if (horizontal) s.height = xAxisBand;
      else s.width = col.plotLeft - col.canvasLeft;
    },
    grid: { color: "#ffffff", lineWidth: 1.2, drawTicks: false },
    border: { display: false },
    ticks: {
      padding: horizontal ? 7 : col.tickPad,
      autoSkip: false,
      maxRotation: 0,
      color: TEXT,
      font: { size: 11.4 },
      callback: (v, i) => labels[i]
    },
    title: {
      display: true,
      text: title,
      color: TEXT,
      font: { size: 13.4 },
      padding: horizontal ? { top: 0, bottom: 1 } : { top: col.yTitlePad, bottom: 0 }
    }
  };
}

function panel(row, colIndex, title, datasets, xScale, yScale) {
  const col = columns[colIndex];
  const yw = col.plotLeft - col.canvasLeft;
  const w = yw + col.plotWidth + 40;
  const h = titleBand + plotHeight + xAxisBand;
  const cv = document.createElement("canvas");
  cv.width = w;
  cv.height = h;
  cv.style.left = col.canvasLeft + "px";
  cv.style.top = (plotTops[row] - titleBand) + "px";
  cv.style.width = w + "px";
  cv.style.height = h + "px";
  document.body.appendChild(cv);
  new Chart(cv, {
    type: "line",
    data: { datasets: datasets },
    options: {
      responsive: false,
      animation: false,
      devicePixelRatio: 1,
      layout: { padding: { left: 0, right: 40, top: titleBand, bottom: 0 } },
      scales: { x: xScale, y: yScale },
      plugins: {
        legend: { display: false },
        tooltip: { enabled: false },
        title: { display: false },
        darkgrid: { text: title }
      }
    },
    plugins: [darkgrid]
  });
}

function lineSets(black, yellow, blackWidth, yellowWidth, smooth) {
  const mk = (data, color, width) => ({
    data: data,
    borderColor: color,
    borderWidth: width,
    pointRadius: 0,
    fill: false,
    tension: 0,
    cubicInterpolationMode: smooth ? "monotone" : "default"
  });
  // black datasets first so they end up drawn on top of the yellow ones
  return black.map((d) => mk(d, "#000000", blackWidth))
    .concat(yellow.map((d) => mk(d, YELLOW, yellowWidth)));
}

function dotSet(points) {
  return [{
    data: points,
    showLine: false,
    pointRadius: 0.95,
    pointBorderWidth: 0,
    pointBackgroundColor: "rgba(0,0,0,0.8)",
    borderColor: "rgba(0,0,0,0)"
  }];
}

const guessRows = [
  [guessBlack1, guessYellow1], [guessBlack2, guessYellow2],
  [guessBlack3, guessYellow3], [guessBlack4, guessYellow4]
];
const moveRows = [
  [moveBlack1, moveYellow1], [moveBlack2, moveYellow2],
  [moveBlack3, moveYellow3], [moveBlack4, moveYellow4]
];
const errRows = [trainErr1, trainErr2, trainErr3, trainErr4];

for (let r = 0; r < 4; r++) {
  panel(r, 0, "Guesses for modality P and environment H6",
    lineSets(guessRows[r][0], guessRows[r][1], 2.4, 2.2, true),
    scale(0, 614, stepTicks, stepLabels, "Simulation Timesteps", true, columns[0]),
    scale(-1.1, 1.1, guessTicks, guessLabels, "Value of Guess Neuron", false, columns[0]));

  panel(r, 1, "Movement for modality P and environment H6",
    lineSets(moveRows[r][0], moveRows[r][1], 1.2, 3, false),
    scale(-25, 25, posXTicks, posXLabels, "X axis position", true, columns[1]),
    scale(-28, -2, posZTicks, posZLabels, "Z axis position", false, columns[1], true));

  panel(r, 2, "Evolution of sensor modality P",
    dotSet(errRows[r]),
    scale(0, 10000, evalTicks, evalLabels, "Evaluation", true, columns[2]),
    scale(0, 1, errTicks, errLabels, "Training Error", false, columns[2]));
}
</script>
</body>
</html>
